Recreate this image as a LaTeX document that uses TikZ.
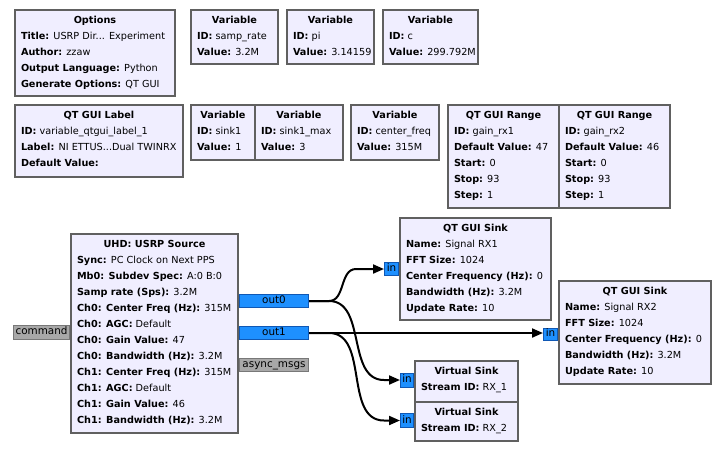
\documentclass[tikz,border=0pt]{standalone}
\usepackage{fontspec}
\setmainfont{DejaVu Sans}
\usetikzlibrary{calc,arrows.meta}
\definecolor{blkfill}{RGB}{240,238,255}
\definecolor{blkborder}{RGB}{96,96,96}
\definecolor{portblue}{RGB}{30,144,255}
\definecolor{portblueborder}{RGB}{16,88,180}
\definecolor{portgray}{RGB}{168,168,168}
\definecolor{portgrayborder}{RGB}{120,120,120}
\tikzset{
  blk/.style={draw=blkborder, fill=blkfill, line width=2.4pt, inner sep=0pt, rectangle},
  ttl/.style={font=\fontsize{9.7}{12}\selectfont\bfseries, inner sep=0pt, anchor=base},
  txt/.style={font=\fontsize{9.7}{12}\selectfont, inner sep=0pt, anchor=base west},
  sport/.style={draw=portblueborder, fill=portblue, line width=1pt, inner sep=0pt,
    font=\fontsize{10.4}{12}\selectfont, text height=7.5pt, text depth=2pt},
  mport/.style={draw=portgrayborder, fill=portgray, line width=1pt, inner sep=0pt,
    font=\fontsize{10.4}{12}\selectfont, text height=7.5pt, text depth=2pt},
  wire/.style={line width=2pt, -{Triangle[length=11pt,width=9pt]}}
}
% block: name, x0, y0, x1, y1, title
\newcommand\gblk[6]{%
  \node[blk, minimum width={(#4-#2-2.4)*1pt}, minimum height={(#5-#3-2.4)*1pt}]
    (#1) at ({(#2+#4)/2},{(#3+#5)/2}) {};
  \node[ttl] (#1-t) at ($(#1.north)+(0,14.8)$) {#6};}
% line: block name, index, bold key, value
\newcommand\gln[4]{%
  \node[txt] (#1-#2) at ($(#1.north west)+({6.8},{16*(#2+1)-1.2})$) {\textbf{#3} #4};}
\begin{document}
\begin{tikzpicture}[x=1pt,y=-1pt]
\useasboundingbox[fill=white] (0,0) rectangle (719,448);

% ports
\node[sport, minimum width=69pt, minimum height=13pt] (out0) at (274,301) {out0};
\node[sport, minimum width=69pt, minimum height=13pt] (out1) at (274,333) {out1};
\node[mport, minimum width=69pt, minimum height=13pt] (amsg) at (274,365) {async\_msgs};
\node[mport, minimum width=56pt, minimum height=14pt] (cmd) at (41.5,332) {command};
\node[sport, minimum width=14pt, minimum height=13pt] (qs1in) at (391.5,269) {in};
\node[sport, minimum width=14pt, minimum height=12pt] (qs2in) at (550.5,334) {in};
\node[sport, minimum width=13pt, minimum height=14pt] (vs1in) at (407,380) {in};
\node[sport, minimum width=13pt, minimum height=14pt] (vs2in) at (407,420.5) {in};

% wires
\draw[wire] (out0.east) -- ++(20,0) to[out=0,in=180] ($(qs1in.west)+(-28,0)$) -- (qs1in.west);
\draw[wire] (out0.east) -- ++(20,0) to[out=0,in=180] ($(vs1in.west)+(-16,0)$) -- (vs1in.west);
\draw[wire] (out1.east) -- (out1.east -| qs2in.west);
\draw[wire] (out1.east) -- ++(20,0) to[out=0,in=180] ($(vs2in.west)+(-16,0)$) -- (vs2in.west);

% blocks
\gblk{opt}{14}{9}{176}{97}{Options}
\gln{opt}{1}{Title:}{USRP Dir... Experiment}
\gln{opt}{2}{Author:}{zzaw}
\gln{opt}{3}{Output Language:}{Python}
\gln{opt}{4}{Generate Options:}{QT GUI}

\gblk{vsr}{190}{9}{279}{65}{Variable}
\gln{vsr}{1}{ID:}{samp\_rate}
\gln{vsr}{2}{Value:}{3.2M}

\gblk{vpi}{286}{9}{375}{65}{Variable}
\gln{vpi}{1}{ID:}{pi}
\gln{vpi}{2}{Value:}{3.14159}

\gblk{vc}{382}{9}{479}{65}{Variable}
\gln{vc}{1}{ID:}{c}
\gln{vc}{2}{Value:}{299.792M}

\gblk{lbl}{14}{104}{184}{178}{QT GUI Label}
\gln{lbl}{1}{ID:}{variable\_qtgui\_label\_1}
\gln{lbl}{2}{Label:}{NI ETTUS...Dual TWINRX}
\gln{lbl}{3}{Default Value:}{}

\gblk{vs1}{190}{104}{256}{161}{Variable}
\gln{vs1}{1}{ID:}{sink1}
\gln{vs1}{2}{Value:}{1}

\gblk{vs1m}{254}{104}{344}{161}{Variable}
\gln{vs1m}{1}{ID:}{sink1\_max}
\gln{vs1m}{2}{Value:}{3}

\gblk{vcf}{350}{104}{440}{161}{Variable}
\gln{vcf}{1}{ID:}{center\_freq}
\gln{vcf}{2}{Value:}{315M}

\gblk{rg1}{447}{104}{560}{209}{QT GUI Range}
\gln{rg1}{1}{ID:}{gain\_rx1}
\gln{rg1}{2}{Default Value:}{47}
\gln{rg1}{3}{Start:}{0}
\gln{rg1}{4}{Stop:}{93}
\gln{rg1}{5}{Step:}{1}

\gblk{rg2}{558}{104}{671}{209}{QT GUI Range}
\gln{rg2}{1}{ID:}{gain\_rx2}
\gln{rg2}{2}{Default Value:}{46}
\gln{rg2}{3}{Start:}{0}
\gln{rg2}{4}{Stop:}{93}
\gln{rg2}{5}{Step:}{1}

\gblk{uhd}{70}{233}{239}{434}{UHD: USRP Source}
\gln{uhd}{1}{Sync:}{PC Clock on Next PPS}
\gln{uhd}{2}{Mb0: Subdev Spec:}{A:0 B:0}
\gln{uhd}{3}{Samp rate (Sps):}{3.2M}
\gln{uhd}{4}{Ch0: Center Freq (Hz):}{315M}
\gln{uhd}{5}{Ch0: AGC:}{Default}
\gln{uhd}{6}{Ch0: Gain Value:}{47}
\gln{uhd}{7}{Ch0: Bandwidth (Hz):}{3.2M}
\gln{uhd}{8}{Ch1: Center Freq (Hz):}{315M}
\gln{uhd}{9}{Ch1: AGC:}{Default}
\gln{uhd}{10}{Ch1: Gain Value:}{46}
\gln{uhd}{11}{Ch1: Bandwidth (Hz):}{3.2M}

\gblk{qs1}{399}{217}{552}{321}{QT GUI Sink}
\gln{qs1}{1}{Name:}{Signal RX1}
\gln{qs1}{2}{FFT Size:}{1024}
\gln{qs1}{3}{Center Frequency (Hz):}{0}
\gln{qs1}{4}{Bandwidth (Hz):}{3.2M}
\gln{qs1}{5}{Update Rate:}{10}

\gblk{qs2}{558}{280}{712}{385}{QT GUI Sink}
\gln{qs2}{1}{Name:}{Signal RX2}
\gln{qs2}{2}{FFT Size:}{1024}
\gln{qs2}{3}{Center Frequency (Hz):}{0}
\gln{qs2}{4}{Bandwidth (Hz):}{3.2M}
\gln{qs2}{5}{Update Rate:}{10}

\gblk{vk1}{414}{360}{519}{403}{Virtual Sink}
\gln{vk1}{1}{Stream ID:}{RX\_1}

\gblk{vk2}{414}{401}{519}{442}{Virtual Sink}
\gln{vk2}{1}{Stream ID:}{RX\_2}
\end{tikzpicture}
\end{document}
